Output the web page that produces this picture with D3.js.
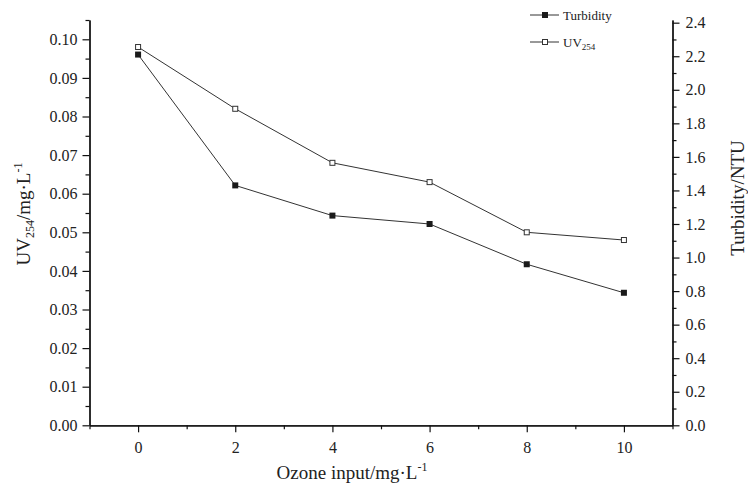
<!DOCTYPE html>
<html>
<head>
<meta charset="utf-8">
<script src="https://cdn.jsdelivr.net/npm/d3@7"></script>
<style>
  body { margin: 0; background: #fff; }
  text { font-family: "Liberation Serif", "Times New Roman", serif; fill: #222; }
</style>
</head>
<body>
<svg width="748" height="489"></svg>
<script>
// data
const ozone = [0, 2, 4, 6, 8, 10];
const uv254 = [0.098, 0.082, 0.068, 0.063, 0.050, 0.048];
const turbidity = [2.21, 1.43, 1.25, 1.20, 0.96, 0.79];

const xTicks = [0, 2, 4, 6, 8, 10];
const xMinor = [-1, 1, 3, 5, 7, 9, 11];
const uvTicks = [0, 0.01, 0.02, 0.03, 0.04, 0.05, 0.06, 0.07, 0.08, 0.09, 0.10];
const uvMinor = [0.005, 0.015, 0.025, 0.035, 0.045, 0.055, 0.065, 0.075, 0.085, 0.095, 0.105];
const tuTicks = [0, 0.2, 0.4, 0.6, 0.8, 1.0, 1.2, 1.4, 1.6, 1.8, 2.0, 2.2, 2.4];
const tuMinor = [0.1, 0.3, 0.5, 0.7, 0.9, 1.1, 1.3, 1.5, 1.7, 1.9, 2.1, 2.3];

const svg = d3.select('svg');
const pLeft = 89.5, pRight = 672.5, pTop = 20, pBottom = 425.3;

const x = d3.scaleLinear().domain([-1, 11]).range([pLeft, pRight]);
const yL = d3.scaleLinear().domain([0, 0.105]).range([pBottom, pTop]);
const yR = d3.scaleLinear().domain([0, 2.416]).range([pBottom, pTop]);

const fmt2 = d3.format('.2f');
const fmt1 = d3.format('.1f');
const serif = '"Liberation Serif", "Times New Roman", serif';

// minor ticks first, then major with labels
const drawAxis = (axis, tr) => {
  const g = svg.append('g').attr('transform', tr).call(axis)
    .attr('font-family', serif).attr('font-size', 16);
  g.selectAll('path.domain').attr('stroke', '#111').attr('stroke-width', 1.3);
  g.selectAll('.tick line').attr('stroke', '#111').attr('stroke-width', 1.2);
  g.selectAll('text').attr('fill', '#222');
  return g;
};

drawAxis(d3.axisBottom(x).tickValues(xMinor).tickSize(4).tickSizeOuter(0).tickFormat(''), `translate(0,${pBottom})`);
drawAxis(d3.axisBottom(x).tickValues(xTicks).tickSize(7).tickSizeOuter(0).tickPadding(9).tickFormat(d3.format('d')), `translate(0,${pBottom})`);

drawAxis(d3.axisLeft(yL).tickValues(uvMinor).tickSize(4).tickSizeOuter(0).tickFormat(''), `translate(${pLeft},0)`);
drawAxis(d3.axisLeft(yL).tickValues(uvTicks).tickSize(7).tickSizeOuter(0).tickPadding(5).tickFormat(fmt2), `translate(${pLeft},0)`);

drawAxis(d3.axisRight(yR).tickValues(tuMinor).tickSize(4).tickSizeOuter(0).tickFormat(''), `translate(${pRight},0)`);
drawAxis(d3.axisRight(yR).tickValues(tuTicks).tickSize(7).tickSizeOuter(0).tickPadding(6).tickFormat(fmt1), `translate(${pRight},0)`);

// lines
const uvData = ozone.map((d, i) => ({x: d, y: uv254[i]}));
const tuData = ozone.map((d, i) => ({x: d, y: turbidity[i]}));

svg.append('path').datum(tuData)
  .attr('fill', 'none').attr('stroke', '#333').attr('stroke-width', 1)
  .attr('d', d3.line().x(d => x(d.x)).y(d => yR(d.y)));
svg.append('path').datum(uvData)
  .attr('fill', 'none').attr('stroke', '#333').attr('stroke-width', 1)
  .attr('d', d3.line().x(d => x(d.x)).y(d => yL(d.y)));

svg.selectAll('rect.tu').data(tuData).enter().append('rect')
  .attr('class', 'tu')
  .attr('x', d => x(d.x) - 3).attr('y', d => yR(d.y) - 3)
  .attr('width', 6).attr('height', 6).attr('fill', '#1a1a1a');
svg.selectAll('rect.uv').data(uvData).enter().append('rect')
  .attr('class', 'uv')
  .attr('x', d => x(d.x) - 2.5).attr('y', d => yL(d.y) - 2.5)
  .attr('width', 5).attr('height', 5).attr('fill', '#fff')
  .attr('stroke', '#333').attr('stroke-width', 1);

// legend
const lg = svg.append('g');
lg.append('line').attr('x1', 530).attr('x2', 559).attr('y1', 15).attr('y2', 15).attr('stroke', '#333');
lg.append('rect').attr('x', 542).attr('y', 12).attr('width', 6).attr('height', 6).attr('fill', '#1a1a1a');
lg.append('text').attr('x', 563).attr('y', 19.5).attr('font-size', 13).text('Turbidity');
lg.append('line').attr('x1', 530).attr('x2', 559).attr('y1', 42).attr('y2', 42).attr('stroke', '#333');
lg.append('rect').attr('x', 542.5).attr('y', 39.5).attr('width', 5).attr('height', 5).attr('fill', '#fff').attr('stroke', '#333');
const t2 = lg.append('text').attr('x', 563).attr('y', 46.5).attr('font-size', 13);
t2.append('tspan').text('UV');
t2.append('tspan').attr('font-size', 9).attr('dy', 3).text('254');

// axis titles
const xt = svg.append('text').attr('x', 352).attr('y', 479).attr('text-anchor', 'middle').attr('font-size', 19);
xt.append('tspan').text('Ozone input/mg·L');
xt.append('tspan').attr('font-size', 12).attr('dy', -8).text('-1');

const ylt = svg.append('text').attr('transform', 'translate(30,214) rotate(-90)').attr('text-anchor', 'middle').attr('font-size', 19);
ylt.append('tspan').text('UV');
ylt.append('tspan').attr('font-size', 12).attr('dy', 4).text('254');
ylt.append('tspan').attr('dy', -4).text('/mg·L');
ylt.append('tspan').attr('font-size', 12).attr('dy', -8).text('-1');

svg.append('text').attr('transform', 'translate(744,198) rotate(-90)').attr('text-anchor', 'middle')
  .attr('font-size', 19).text('Turbidity/NTU');
</script>
</body>
</html>
